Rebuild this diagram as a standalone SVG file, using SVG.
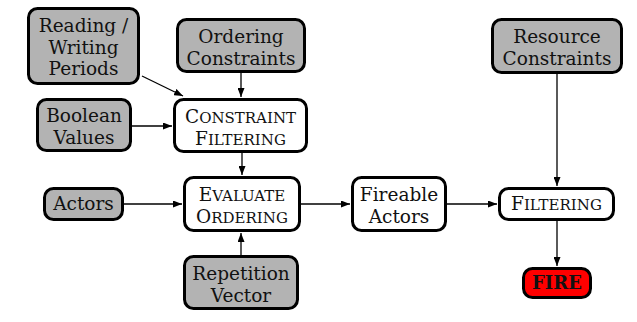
<svg xmlns="http://www.w3.org/2000/svg" width="637" height="322" viewBox="0 0 637 322">
<style>
.box{stroke:#000;stroke-width:3}
.g{fill:#b3b3b3}
.w{fill:#fff}
.r{fill:#ff0000}
text{font-family:"DejaVu Serif","Liberation Serif",serif;font-size:18.5px;fill:#111;text-anchor:middle}
.s{font-size:15px}
.b{font-weight:bold;font-size:18px}
.e{stroke:#000;stroke-width:1.3;fill:none;marker-end:url(#ah)}
</style>
<defs>
<marker id="ah" markerUnits="userSpaceOnUse" markerWidth="9" markerHeight="7" refX="9" refY="3.5" orient="auto">
<path d="M0,0 L9,3.5 L0,7 z" fill="#000"/>
</marker>
</defs>
<rect width="637" height="322" fill="#fff"/>
<g id="connectors">
<line class="e" x1="142" y1="76" x2="183" y2="96"/>
<line class="e" x1="241" y1="73" x2="241" y2="97"/>
<line class="e" x1="132" y1="126" x2="172" y2="126"/>
<line class="e" x1="242" y1="153" x2="242" y2="175"/>
<line class="e" x1="124" y1="204" x2="182" y2="204"/>
<line class="e" x1="241" y1="255" x2="241" y2="233"/>
<line class="e" x1="301" y1="204" x2="350" y2="204"/>
<line class="e" x1="447" y1="204" x2="497" y2="204"/>
<line class="e" x1="557" y1="74" x2="557" y2="186"/>
<line class="e" x1="557" y1="221" x2="557" y2="266"/>
</g>
<g id="rwp">
<rect class="box g" x="28.5" y="8.5" width="110" height="75" rx="9"/>
<text x="83.5" y="32">Reading /</text>
<text x="83.5" y="53.5">Writing</text>
<text x="83.5" y="75">Periods</text>
</g>
<g id="ordering">
<rect class="box g" x="177.5" y="19.5" width="127" height="52" rx="9"/>
<text x="241" y="43">Ordering</text>
<text x="241" y="65">Constraints</text>
</g>
<g id="boolean">
<rect class="box g" x="37.5" y="99.5" width="93" height="51" rx="9"/>
<text x="84" y="122">Boolean</text>
<text x="84" y="144">Values</text>
</g>
<g id="cfilter">
<rect class="box w" x="174.5" y="99.5" width="132" height="52" rx="9"/>
<text x="240.5" y="122.5">C<tspan class="s">ONSTRAINT</tspan></text>
<text x="240.5" y="144.5">F<tspan class="s">ILTERING</tspan></text>
</g>
<g id="actors">
<rect class="box g" x="44.5" y="188.5" width="78" height="31" rx="9"/>
<text x="83.5" y="210">Actors</text>
</g>
<g id="evaluate">
<rect class="box w" x="184.5" y="177.5" width="115" height="53" rx="9"/>
<text x="242" y="201">E<tspan class="s">VALUATE</tspan></text>
<text x="242" y="223">O<tspan class="s">RDERING</tspan></text>
</g>
<g id="repetition">
<rect class="box g" x="184.5" y="256.5" width="113" height="52" rx="9"/>
<text x="241" y="279.5">Repetition</text>
<text x="241" y="301.5">Vector</text>
</g>
<g id="fireable">
<rect class="box w" x="352.5" y="177.5" width="93" height="53" rx="9"/>
<text x="399" y="201">Fireable</text>
<text x="399" y="223">Actors</text>
</g>
<g id="resource">
<rect class="box g" x="492.5" y="19.5" width="129" height="53" rx="9"/>
<text x="557" y="43">Resource</text>
<text x="557" y="65">Constraints</text>
</g>
<g id="filtering">
<rect class="box w" x="499.5" y="188.5" width="114" height="31" rx="9"/>
<text x="556.5" y="210">F<tspan class="s">ILTERING</tspan></text>
</g>
<g id="fire">
<rect class="box r" x="523.5" y="268.5" width="67" height="29" rx="9"/>
<text class="b" x="557" y="289">FIRE</text>
</g>
</svg>
